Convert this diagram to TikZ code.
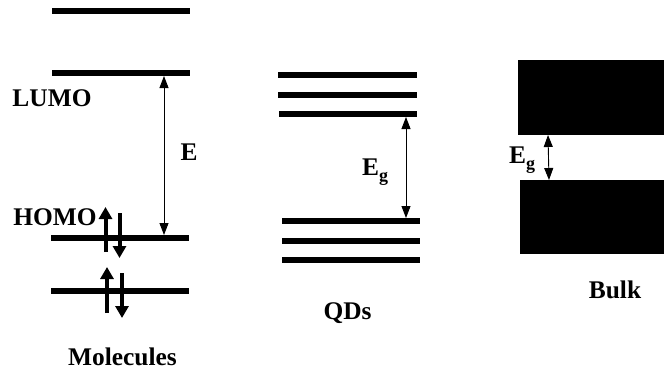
\documentclass[tikz,border=0pt]{standalone}
\usepackage{fontspec}
\setmainfont{Liberation Serif}
\usetikzlibrary{arrows.meta}
\tikzset{
  level/.style={line width=6bp},
  gap/.style={line width=0.9bp, {Triangle[width=9bp,length=12bp]}-{Triangle[width=9bp,length=12bp]}},
  spin/.style={line width=4bp, -{Triangle[width=13bp,length=12bp]}},
  lbl/.style={inner sep=0pt, anchor=base, font=\fontsize{25.5}{28}\selectfont\bfseries},
  eglbl/.style={lbl, anchor=base west},
  band/.style={fill=black, draw=none}
}
\newcommand{\Eg}{E\raisebox{-6bp}{\fontsize{18}{18}\selectfont g}}
\begin{document}
\begin{tikzpicture}[x=1bp,y=-1bp]
\useasboundingbox (0,0) rectangle (664,370);
% Molecules
\draw[level] (52,11) -- (190,11);
\draw[level] (52,73) -- (190,73);
\draw[level] (51,238) -- (189,238);
\draw[level] (51,291) -- (189,291);
\coordinate (eTop) at (164,76);
\coordinate (eBot) at (164,235);
\draw[gap] (eTop) -- (eBot);
\node[lbl] (lumo) at (52,106) {LUMO};
\node[lbl] (homo) at (55,225) {HOMO};
\node[lbl] (e) at (189,160) {E};
\node[lbl] (mol) at (122.5,365) {Molecules};
\coordinate (u1a) at (105.5,252); \coordinate (u1b) at (105.5,207);
\coordinate (d1a) at (119.5,213); \coordinate (d1b) at (119.5,258);
\coordinate (u2a) at (107,313); \coordinate (u2b) at (107,267);
\coordinate (d2a) at (122,273); \coordinate (d2b) at (122,318);
\draw[spin] (u1a) -- (u1b);
\draw[spin] (d1a) -- (d1b);
\draw[spin] (u2a) -- (u2b);
\draw[spin] (d2a) -- (d2b);
% QDs
\draw[level] (278,75) -- (417,75);
\draw[level] (278,95) -- (417,95);
\draw[level] (279,114) -- (417,114);
\draw[level] (282,221) -- (420,221);
\draw[level] (282,241) -- (420,241);
\draw[level] (282,260) -- (420,260);
\coordinate (qTop) at (406,117);
\coordinate (qBot) at (406,218);
\draw[gap] (qTop) -- (qBot);
\node[eglbl] (qeg) at (362,175) {\Eg};
\node[lbl] (qds) at (347.5,319) {QDs};
% Bulk
\fill[band] (518,60) rectangle (664,135);
\fill[band] (520,180) rectangle (664,254);
\coordinate (bTop) at (548,135);
\coordinate (bBot) at (549,180);
\draw[gap] (bTop) -- (bBot);
\node[eglbl] (beg) at (509,163) {\Eg};
\node[lbl] (bulk) at (615,298) {Bulk};
\end{tikzpicture}
\end{document}
